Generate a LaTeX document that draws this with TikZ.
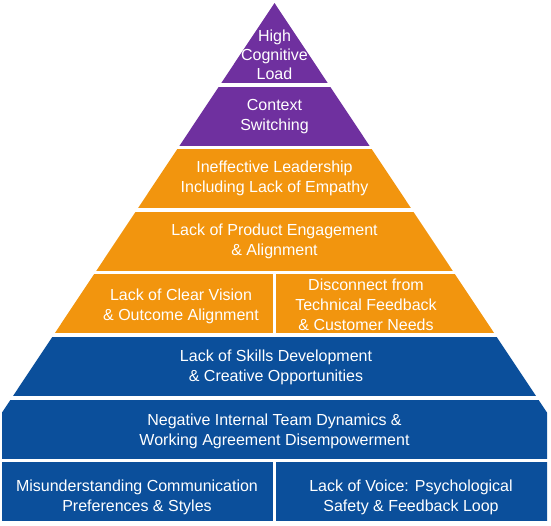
\documentclass[tikz,border=0pt]{standalone}
\usepackage{fontspec}
\setmainfont{Liberation Sans}
\usepackage{xcolor}
\definecolor{pyrpurple}{HTML}{6F309F}
\definecolor{pyrorange}{HTML}{F2950E}
\definecolor{pyrblue}{HTML}{0B4F9B}

\begin{document}
\begin{tikzpicture}[x=1pt, y=-1pt, every node/.style={font=\fontsize{16}{20}\selectfont, text=white, align=center}, divider/.style={white, line width=3pt}]
  \useasboundingbox (0,0) rectangle (551,525);
  \begin{scope}
    \clip (2,0) rectangle (547,520.5);
    \clip (274.5,3) -- ++(346,520) -- ++(-692,0) -- cycle;
    \fill[pyrpurple] (0,0) rectangle (551,83);
    \foreach \t/\col in {86.5/pyrpurple, 149.1/pyrorange, 211.7/pyrorange, 274.3/pyrorange, 336.9/pyrblue, 399.5/pyrblue, 462.1/pyrblue}
      \fill[\col] (0,\t) rectangle (551,{\t+59.1});
  \end{scope}
  \draw[divider] (274.5,274.3) -- (274.5,333.4);
  \draw[divider] (274.5,462.1) -- (274.5,521);
  \node[font=\fontsize{16}{19}\selectfont] (cogload) at (274.5,54.5) {High\\Cognitive\\Load};
  \node (context) at (274.5,116.5) {Context\\Switching};
  \node (leadership) at (274.5,178.5) {Ineffective Leadership\\Including Lack of Empathy};
  \node (product) at (274.5,241.5) {Lack of Product Engagement\\\& Alignment};
  \node (vision) at (181,306) {Lack of Clear Vision\\\& Outcome Alignment};
  \node (disconnect) at (366,305) {Disconnect from\\Technical Feedback\\\& Customer Needs};
  \node (skills) at (276,367) {Lack of Skills Development\\\& Creative Opportunities};
  \node (dynamics) at (274.5,431) {Negative Internal Team Dynamics \&\\Working Agreement Disempowerment};
  \node (misunderstanding) at (137,497) {Misunderstanding Communication\\Preferences \& Styles};
  \node (voice) at (411,497) {Lack of Voice: Psychological\\Safety \& Feedback Loop};
\end{tikzpicture}
\end{document}
